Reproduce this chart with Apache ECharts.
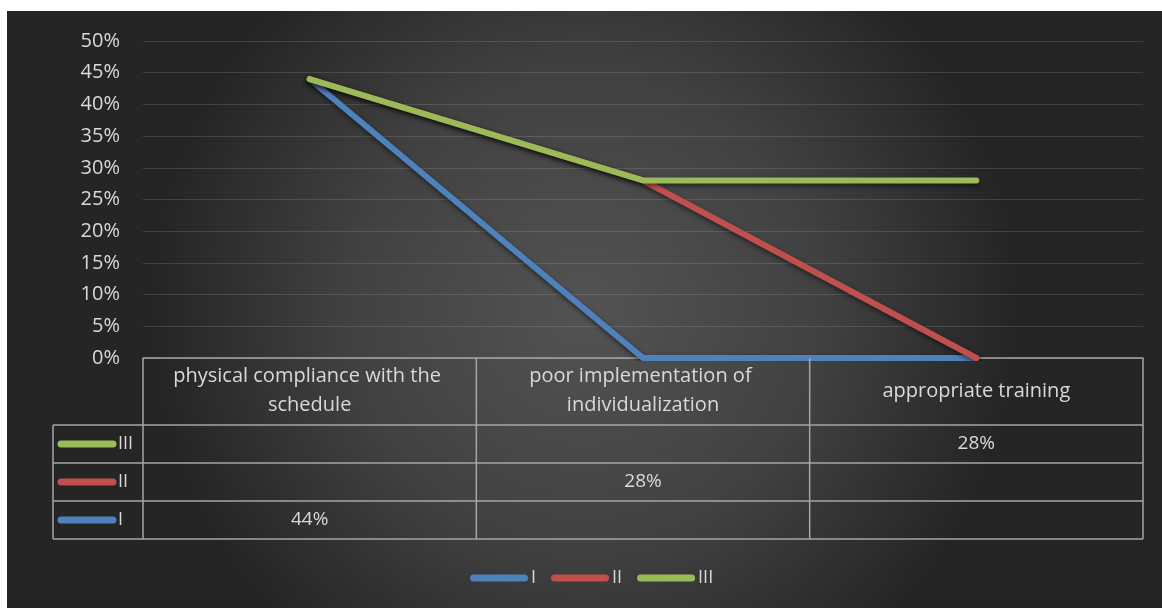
<!DOCTYPE html>
<html>
<head>
<meta charset="utf-8">
<script src="https://cdn.jsdelivr.net/npm/echarts@6/dist/echarts.min.js"></script>
<style>
  html, body { margin: 0; padding: 0; background: #ffffff; }
  #chart { width: 1162px; height: 608px; }
</style>
</head>
<body>
<div id="chart"></div>
<script>
// Categories and stacked series values (fractions of 1)
const categories = [
  'physical compliance with the schedule',
  'poor implementation of individualization',
  'appropriate training'
];
const seriesNames = ['I', 'II', 'III'];
const valuesI = [0.44, 0, 0];
const valuesII = [0, 0.28, 0];
const valuesIII = [0, 0, 0.28];
const seriesColors = ['#4f81bd', '#c0504d', '#9bbb59'];
const yMin = 0, yMax = 0.5, yStep = 0.05;

const FONT = '"Open Sans", Lato, sans-serif';
const TEXT = '#d9d9d9';
const TABLE_LINE = '#a6a6a6';

const seriesValues = [valuesI, valuesII, valuesIII];
const pct = v => Math.round(v * 100) + '%';

const chart = echarts.init(document.getElementById('chart'), null, { renderer: 'canvas' });

const grid = { left: 143, right: 19, top: 41, bottom: 250 };

chart.setOption({
  backgroundColor: '#ffffff',
  animation: false,
  textStyle: { fontFamily: FONT },
  grid: grid,
  legend: {
    data: seriesNames,
    left: 465,
    top: 564,
    itemWidth: 58,
    itemHeight: 7,
    itemGap: 15,
    icon: 'path://M3.5,0 H54.5 A3.5,3.5 0 0 1 54.5,7 H3.5 A3.5,3.5 0 0 1 3.5,0 Z',
    textStyle: { color: TEXT, fontSize: 18, fontFamily: FONT, padding: [0, 0, 0, -2] }
  },
  xAxis: {
    type: 'category',
    data: categories,
    boundaryGap: true,
    axisLine: { show: true, lineStyle: { color: TABLE_LINE, width: 1.5 } },
    axisTick: { show: false },
    axisLabel: {
      color: TEXT,
      fontSize: 20,
      fontFamily: FONT,
      margin: 33,
      width: 310,
      overflow: 'break',
      align: 'center',
      verticalAlign: 'middle',
      lineHeight: 29,
      interval: 0
    },
    splitLine: { show: false }
  },
  yAxis: {
    type: 'value',
    min: yMin,
    max: yMax,
    interval: yStep,
    axisLine: { show: false },
    axisTick: { show: false },
    axisLabel: {
      color: TEXT,
      fontSize: 20,
      fontFamily: FONT,
      margin: 23,
      formatter: v => pct(v)
    },
    splitLine: { lineStyle: { color: 'rgba(255,255,255,0.13)', width: 1 } }
  },
  series: seriesNames.map((name, i) => ({
    name: name,
    type: 'line',
    stack: 'total',
    data: seriesValues[i],
    showSymbol: false,
    symbol: 'none',
    color: seriesColors[i],
    z: 2 + i,
    lineStyle: {
      width: 6,
      color: seriesColors[i],
      cap: 'round',
      join: 'round',
      shadowColor: 'rgba(0,0,0,0.55)',
      shadowBlur: 5,
      shadowOffsetY: 2
    }
  }))
});

// Data table beneath the plot: rows III, II, I with legend keys and values
function buildTable() {
  const W = 1162;
  const plotLeft = grid.left;
  const plotRight = W - grid.right;
  const axisY = chart.convertToPixel({ yAxisIndex: 0 }, 0);
  const headerBottom = 425;
  const rowH = 38;
  const keyLeft = 53;
  const rowOrder = [2, 1, 0];
  const catBounds = [plotLeft];
  const centers = categories.map((c, i) => chart.convertToPixel({ xAxisIndex: 0 }, i));
  for (let i = 0; i < centers.length - 1; i++) catBounds.push((centers[i] + centers[i + 1]) / 2);
  catBounds.push(plotRight);
  const tableBottom = headerBottom + rowH * rowOrder.length;

  const els = [];
  // chart area background
  els.push({
    type: 'rect', z: -10, silent: true,
    shape: { x: 7, y: 11, width: W - 7, height: 608 - 11 },
    style: {
      fill: new echarts.graphic.RadialGradient(0.5, 0.5, 0.72, [
        { offset: 0, color: '#535353' },
        { offset: 0.55, color: '#414141' },
        { offset: 1, color: '#252525' }
      ])
    }
  });
  const line = (x1, y1, x2, y2) => els.push({
    type: 'line', silent: true, z: 10,
    shape: { x1, y1, x2, y2 },
    style: { stroke: TABLE_LINE, lineWidth: 1.5 }
  });
  // verticals across the header and rows
  catBounds.forEach(x => line(x, axisY, x, tableBottom));
  line(keyLeft, headerBottom, keyLeft, tableBottom);
  // horizontals
  for (let r = 0; r <= rowOrder.length; r++) {
    const y = headerBottom + r * rowH;
    line(keyLeft, y, plotRight, y);
  }
  rowOrder.forEach((si, r) => {
    const cy = headerBottom + r * rowH + rowH / 2;
    els.push({
      type: 'line', silent: true, z: 11,
      shape: { x1: 61, y1: cy, x2: 113, y2: cy },
      style: { stroke: seriesColors[si], lineWidth: 7, lineCap: 'round' }
    });
    els.push({
      type: 'text', silent: true, z: 11,
      x: 118, y: cy,
      style: { text: seriesNames[si], fill: TEXT, font: '18px ' + FONT, textAlign: 'left', textVerticalAlign: 'middle' }
    });
    seriesValues[si].forEach((v, ci) => {
      if (!v) return;
      els.push({
        type: 'text', silent: true, z: 11,
        x: centers[ci], y: cy,
        style: { text: pct(v), fill: TEXT, font: '19px ' + FONT, textAlign: 'center', textVerticalAlign: 'middle' }
      });
    });
  });
  chart.setOption({ graphic: { elements: els } });
}
buildTable();
</script>
</body>
</html>
